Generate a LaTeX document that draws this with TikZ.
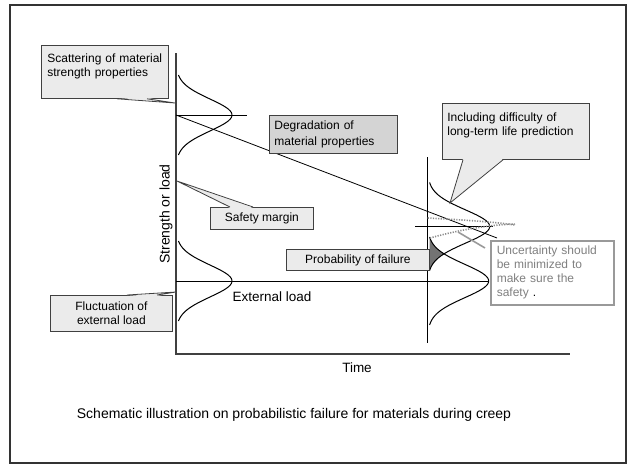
\documentclass[tikz,border=0pt]{standalone}
\usepackage{fontspec}
\setmainfont{Liberation Sans}
\usetikzlibrary{calc}

\begin{document}
\begin{tikzpicture}[x=1pt, y=-1pt, thick,
    box node/.style={draw=black!75, line width=0.8pt, fill=black!8, inner sep=5pt, font=\fontsize{12}{14}\selectfont},
    dark node/.style={box node, fill=black!17},
    note node/.style={draw=black!40, line width=1.6pt, fill=white, text=black!50, inner sep=5pt, font=\fontsize{12}{14}\selectfont},
    label node/.style={font=\fontsize{13.5}{16}\selectfont},
    pointer/.style={draw=black!75, line width=0.8pt},
    bell/.style={line width=1pt, smooth},
    axis line/.style={draw=black!75, line width=1.2pt},
    thin line/.style={line width=0.8pt},
    spread/.style={black!45, line width=1.6pt, dash pattern=on 1.2pt off 1.4pt}]

\useasboundingbox (0,0) rectangle (631,466);
\draw[line width=2.5pt, black!80] (10,5) rectangle (626,463);

% axes
\coordinate (origin) at (176,354);
\coordinate (top) at (176,53);
\coordinate (right) at (570,354);
\draw[axis line] (top) -- (origin) -- (right);

% strength at start, degradation and load
\coordinate (strength) at (176,115);
\coordinate (trend end) at (497,238);
\coordinate (load) at (176,281);
\draw[thin line] (strength) -- (247,115);
\draw[thin line] (strength) -- (trend end);
\draw[thin line] (load) -- (488,281);

\draw[bell] plot[domain=-40:40, samples=50] ({176+56*exp(-(\x)^2/512)}, {115+\x});
\draw[bell] plot[domain=-40:40, samples=50] ({176+56*exp(-(\x)^2/512)}, {281+\x});

% later time
\coordinate (later) at (427.7,157);
\draw[thin line] (later) -- (427.7,343);
\draw[thin line] (415,226.5) -- (493,226.5);

\fill[black!55] plot[domain=-44:-27.25, samples=20] ({427.7+61*exp(-(\x)^2/560)}, {281+\x})
    -- plot[domain=27.25:44, samples=20] ({427.7+62*exp(-(\x)^2/560)}, {226.5+\x}) -- cycle;
\draw[bell] plot[domain=-44:44, samples=50] ({427.7+62*exp(-(\x)^2/560)}, {226.5+\x});
\draw[bell] plot[domain=-44:44, samples=50] ({427.7+61*exp(-(\x)^2/560)}, {281+\x});

\draw[spread] (427.7,218) .. controls (465,220) and (495,222) .. (515,225);
\draw[spread] (430,238) .. controls (455,231) and (485,225) .. (515,224);

% callout boxes
\node[box node, anchor=north west, minimum width=127pt, minimum height=53pt, text width=115pt, align=left] (scatter) at (41,45) {Scattering of material\\strength properties\\~};
\node[dark node, anchor=north west, minimum width=128pt, minimum height=38pt, text width=118pt, align=left] (degrade) at (269,115) {Degradation of\\[1.5pt]material properties};
\node[box node, anchor=north west, minimum width=147pt, minimum height=56pt, text width=137pt, align=left] (predict) at (442,103) {Including difficulty of\\long-term life prediction\\~};
\node[box node, anchor=north west, minimum width=103pt, minimum height=22pt, inner sep=2pt] (margin) at (210,207) {Safety margin};
\node[box node, anchor=north west, minimum width=143pt, minimum height=21pt, inner sep=2pt] (pfail) at (286,249) {Probability of failure};
\node[box node, anchor=north west, minimum width=122pt, minimum height=36pt, inner sep=2pt, align=center] (fluct) at (50,295) {Fluctuation of\\external load};
\node[note node, anchor=north west, minimum width=123pt, minimum height=64pt, text width=111pt, align=left] (uncert) at (490,240) {Uncertainty should\\be minimized to\\make sure the\\safety {\color{black}.}};

% pointers
\coordinate (scatter tip) at (175,103);
\coordinate (predict tip) at (450,203);
\coordinate (margin tip) at (177,181);
\coordinate (fluct tip) at (176,292);
\coordinate (uncert tip) at (458,232);

\fill[black!8] ($(scatter.south west)+(76,-1)$) -- (scatter tip) -- ($(scatter.south west)+(106,-1)$) -- cycle;
\draw[pointer] ($(scatter.south west)+(76,0)$) -- (scatter tip) -- ($(scatter.south west)+(106,0)$);
\fill[black!8] ($(predict.south west)+(21,-1)$) -- (predict tip) -- ($(predict.south west)+(61,-1)$) -- cycle;
\draw[pointer] ($(predict.south west)+(21,0)$) -- (predict tip) -- ($(predict.south west)+(61,0)$);
\fill[black!8] ($(margin.north west)+(20,1)$) -- (margin tip) -- ($(margin.north west)+(43,1)$) -- cycle;
\draw[pointer] ($(margin.north west)+(20,0)$) -- (margin tip) -- ($(margin.north west)+(43,0)$);
\fill[black!8] ($(fluct.north west)+(77,1)$) -- (fluct tip) -- ($(fluct.north west)+(107,1)$) -- cycle;
\draw[pointer] ($(fluct.north west)+(77,0)$) -- (fluct tip) -- ($(fluct.north west)+(107,0)$);
\draw[black!40, line width=1.6pt] (uncert tip) -- ($(uncert.north west)+(-5,8)$);

% axis labels and title
\node[label node, font=\fontsize{14}{16}\selectfont, rotate=90] (ylabel) at (166,214) {Strength or load};
\node[label node] (load label) at (272,297) {External load};
\node[label node] (time) at (357,368) {Time};
\node[label node, font=\fontsize{14}{16}\selectfont] (caption) at (294,415) {Schematic illustration on probabilistic failure for materials during creep};
\end{tikzpicture}
\end{document}
